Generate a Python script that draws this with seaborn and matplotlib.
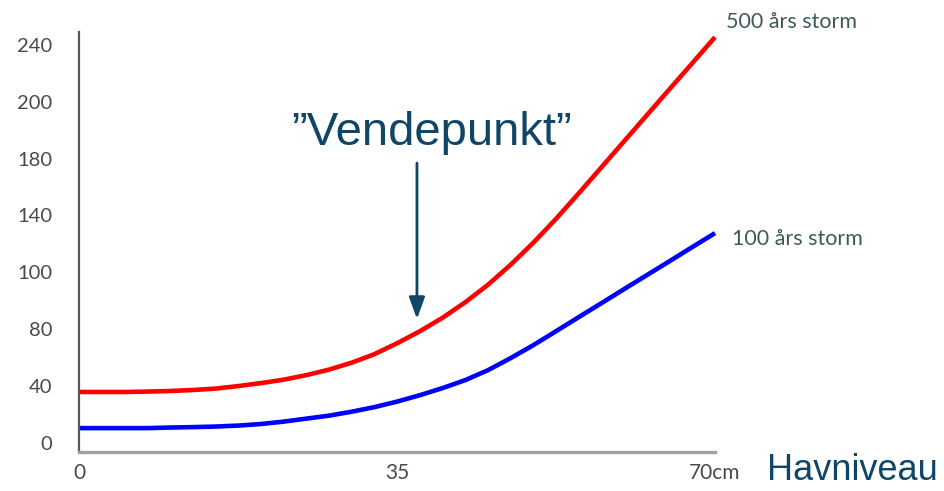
import matplotlib
matplotlib.use("Agg")
import matplotlib.pyplot as plt
import numpy as np
import pandas as pd
import seaborn as sns

# Sea level rise (cm) and relative damage for the two storm types
sea_level = [0, 2.5, 5, 7.5, 10, 12.5, 15, 17.5, 20, 22.5, 25, 27.5, 30, 32.5, 35,
             37.5, 40, 42.5, 45, 47.5, 50, 52.5, 55, 57.5, 60, 62.5, 65, 67.5, 70]
storm_500 = [35.9, 35.9, 35.9, 36.2, 36.6, 37.3, 38.3, 40.1, 42.2, 44.6, 47.8, 51.7, 56.6, 62.6, 70.3,
             78.7, 88.2, 99.1, 111.4, 125.5, 141.0, 157.8, 175.7, 194.0, 212.3, 230.6, 248.9, 267.1, 285.4]
storm_100 = [10.5, 10.5, 10.5, 10.5, 10.9, 11.2, 11.6, 12.3, 13.4, 15.1, 17.2, 19.3, 22.1, 25.3, 29.2,
             33.7, 38.7, 44.3, 51.3, 59.8, 68.9, 78.7, 88.6, 98.4, 108.3, 118.1, 127.9, 137.8, 147.6]

series_names = ["500 års storm", "100 års storm"]
series_colors = ["#ff0000", "#0000ff"]

y_tick_pos = [0, 40, 80, 120, 160, 200, 240, 280]
y_tick_labels = ["0", "40", "80", "100", "140", "180", "200", "240"]
x_tick_pos = [0, 35, 70]
x_tick_labels = ["0", "35", "70cm"]

turning_point_x = 37.15
turning_point_y = 87.2

df = pd.DataFrame({
    "x": sea_level * 2,
    "y": storm_500 + storm_100,
    "storm": [series_names[0]] * len(sea_level) + [series_names[1]] * len(sea_level),
})

sns.set_theme(style="white")
plt.rcParams["font.family"] = ["Lato", "DejaVu Sans"]

fig = plt.figure(figsize=(9.44, 4.91), dpi=100)
ax = fig.add_axes([79 / 944, 1 - 452 / 491, (715 - 79) / 944, (452 - 32) / 491])

sns.lineplot(data=df, x="x", y="y", hue="storm", palette=series_colors,
             hue_order=series_names, linewidth=3.3, legend=False, ax=ax)
for line in ax.get_lines():
    line.set_clip_on(False)
    line.set_solid_capstyle("butt")
    line.set_solid_joinstyle("round")

ax.set_xlim(-0.1, 70)
ax.set_ylim(-6.3, 289)
ax.set_xlabel("")
ax.set_ylabel("")

ax.set_yticks(y_tick_pos)
ax.set_yticklabels(y_tick_labels)
ax.set_xticks(x_tick_pos)
ax.set_xticklabels(x_tick_labels)
ax.tick_params(axis="y", length=0, pad=19, labelsize=14.5, labelcolor="#464b48")
ax.tick_params(axis="x", length=0, pad=8, labelsize=15, labelcolor="#464b48")

for side in ("top", "right"):
    ax.spines[side].set_visible(False)
ax.spines["left"].set_color("#5a5a5a")
ax.spines["left"].set_linewidth(1.6)
ax.spines["bottom"].set_color("#a0a0a0")
ax.spines["bottom"].set_linewidth(2.4)

# End-of-line series labels
label_color = "#3c5a58"
ax.annotate(series_names[0], xy=(sea_level[-1], storm_500[-1]), xytext=(8, 11),
            textcoords="offset points", ha="left", va="center",
            fontsize=15.5, color=label_color, annotation_clip=False)
ax.annotate(series_names[1], xy=(sea_level[-1], storm_100[-1]), xytext=(12, -4),
            textcoords="offset points", ha="left", va="center",
            fontsize=15.5, color=label_color, annotation_clip=False)

# Turning point arrow and caption
dark_blue = "#0f4566"
ax.annotate("", xy=(turning_point_x, turning_point_y), xytext=(turning_point_x, 196.8),
            arrowprops=dict(arrowstyle="-|>,head_width=0.4,head_length=1.1",
                            color=dark_blue, lw=2.0, shrinkA=0, shrinkB=0))
ax.text(38.75, 209.5, "\u201dVendepunkt\u201d", ha="center", va="baseline",
        fontsize=34, color=dark_blue, family=["Liberation Sans", "DejaVu Sans"])

fig.text(767 / 944, 1 - 470 / 491, "Havniveau", ha="left", va="center",
         fontsize=26, color=dark_blue, family=["Liberation Sans", "DejaVu Sans"])

fig.savefig("out.png", dpi=100, facecolor="white")
